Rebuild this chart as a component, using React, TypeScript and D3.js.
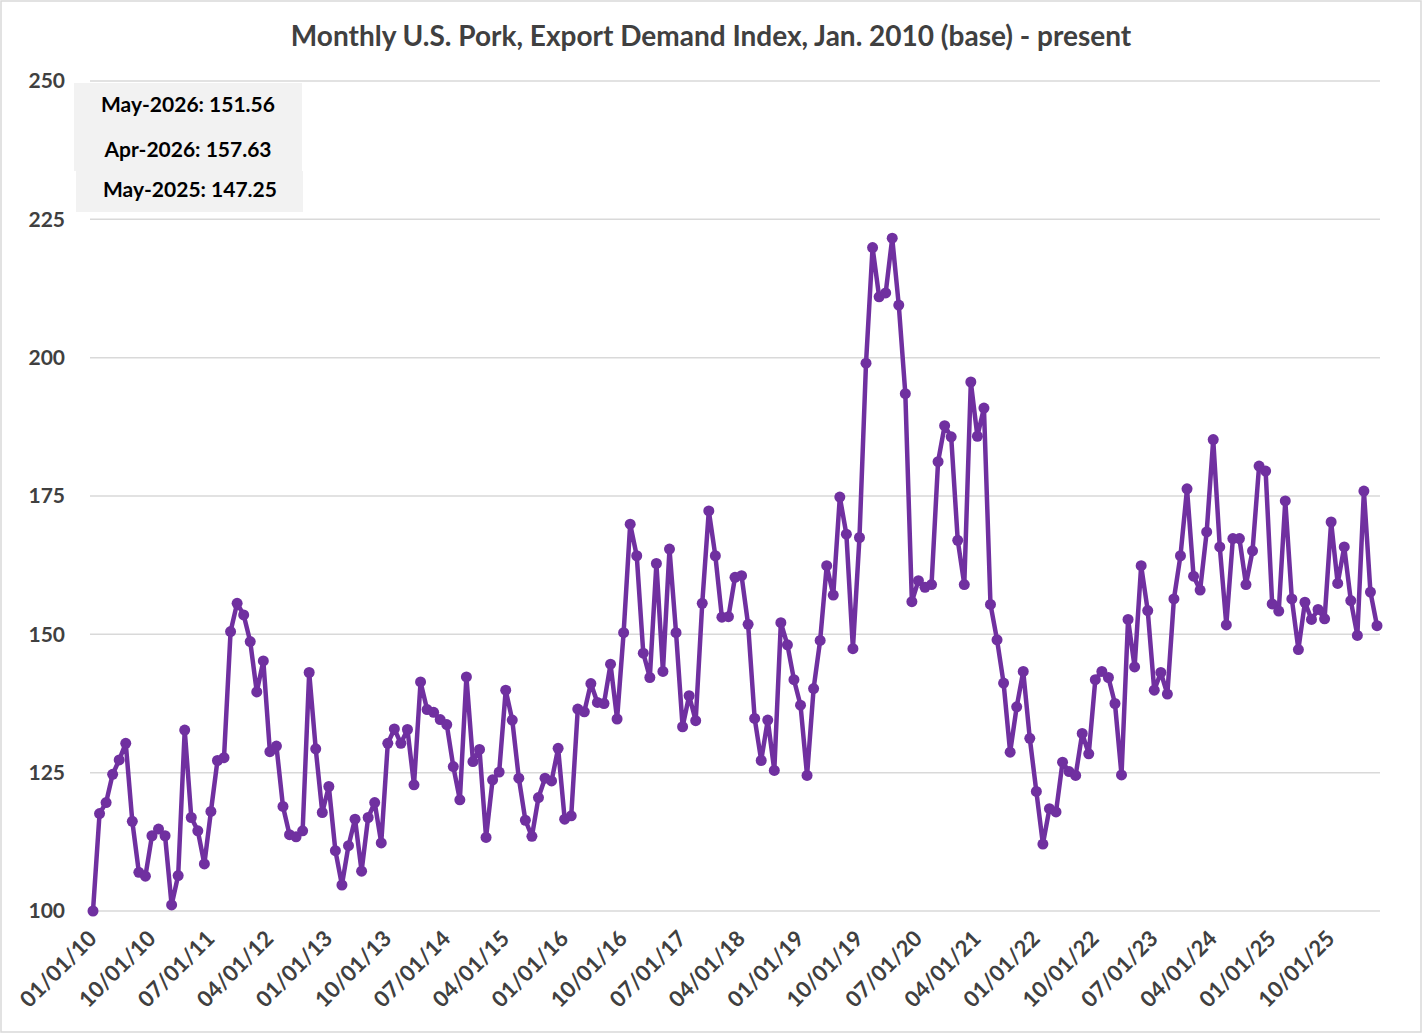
import React, { useEffect, useRef } from 'react';
import * as d3 from 'd3';

// Monthly index values, Jan 2010 = 100 (Jan 2010 .. May 2026)
const values2010 = [100.0, 117.6, 119.6, 124.7, 127.3, 130.3, 116.2, 107.0, 106.3, 113.6, 114.8, 113.6];
const values2011 = [101.1, 106.4, 132.7, 116.9, 114.5, 108.5, 118.0, 127.2, 127.7, 150.5, 155.6, 153.5];
const values2012 = [148.7, 139.6, 145.2, 128.8, 129.8, 118.9, 113.8, 113.4, 114.5, 143.1, 129.3, 117.8];
const values2013 = [122.5, 110.9, 104.7, 111.8, 116.6, 107.2, 116.9, 119.6, 112.3, 130.3, 132.9, 130.3];
const values2014 = [132.8, 122.8, 141.4, 136.4, 135.9, 134.6, 133.7, 126.1, 120.1, 142.3, 127.0, 129.2];
const values2015 = [113.3, 123.7, 125.1, 139.9, 134.5, 124.0, 116.4, 113.5, 120.5, 124.0, 123.5, 129.4];
const values2016 = [116.6, 117.2, 136.5, 136.0, 141.1, 137.7, 137.5, 144.6, 134.7, 150.3, 169.9, 164.2];
const values2017 = [146.6, 142.2, 162.8, 143.3, 165.4, 150.3, 133.3, 138.9, 134.4, 155.6, 172.3, 164.2];
const values2018 = [153.1, 153.2, 160.3, 160.6, 151.8, 134.8, 127.2, 134.5, 125.4, 152.1, 148.1, 141.8];
const values2019 = [137.2, 124.5, 140.2, 148.9, 162.4, 157.1, 174.8, 168.1, 147.4, 167.5, 199.0, 219.9];
const values2020 = [211.0, 211.7, 221.6, 209.5, 193.5, 155.9, 159.7, 158.5, 159.0, 181.2, 187.7, 185.7];
const values2021 = [167.0, 159.0, 195.6, 185.8, 190.9, 155.4, 149.0, 141.2, 128.7, 136.9, 143.3, 131.2];
const values2022 = [121.6, 112.1, 118.5, 117.9, 126.9, 125.2, 124.5, 132.1, 128.4, 141.8, 143.3, 142.2];
const values2023 = [137.5, 124.6, 152.7, 144.1, 162.4, 154.3, 139.9, 143.1, 139.2, 156.4, 164.2, 176.3];
const values2024 = [160.5, 158.0, 168.5, 185.2, 165.8, 151.7, 167.3, 167.3, 159.0, 165.1, 180.4, 179.5];
const values2025 = [155.5, 154.2, 174.1, 156.4, 147.25, 155.8, 152.7, 154.5, 152.8, 170.3, 159.2, 165.8];
const values2026 = [156.1, 149.8, 175.9, 157.63, 151.56];

const years = [2010, 2011, 2012, 2013, 2014, 2015, 2016, 2017, 2018, 2019, 2020, 2021, 2022, 2023, 2024, 2025, 2026];
const valuesByYear = [
  values2010, values2011, values2012, values2013, values2014, values2015, values2016, values2017, values2018,
  values2019, values2020, values2021, values2022, values2023, values2024, values2025, values2026,
];

const xTickLabels = [
  '01/01/10', '10/01/10', '07/01/11', '04/01/12', '01/01/13', '10/01/13', '07/01/14', '04/01/15',
  '01/01/16', '10/01/16', '07/01/17', '04/01/18', '01/01/19', '10/01/19', '07/01/20', '04/01/21',
  '01/01/22', '10/01/22', '07/01/23', '04/01/24', '01/01/25', '10/01/25',
];
const yTicks = [100, 125, 150, 175, 200, 225, 250];

const calloutLines = ['May-2026: 151.56', 'Apr-2026: 157.63', 'May-2025: 147.25'];

const TITLE = 'Monthly U.S. Pork, Export Demand Index, Jan. 2010 (base) - present';

interface Point {
  key: string;
  value: number;
}

const pad = (n: number) => String(n).padStart(2, '0');

const data: Point[] = years.flatMap((yr, i) =>
  valuesByYear[i].map((v, m) => ({ key: `${yr}-${pad(m + 1)}`, value: v }))
);

// "MM/DD/YY" -> "YYYY-MM"
const labelToKey = (label: string) => `20${label.slice(6, 8)}-${label.slice(0, 2)}`;

const W = 1422;
const H = 1033;

const App: React.FC = () => {
  const svgRef = useRef<SVGSVGElement>(null);

  useEffect(() => {
    if (!svgRef.current) return;
    const svg = d3.select(svgRef.current);
    svg.selectAll('*').remove();

    const font = 'Lato, "Open Sans", sans-serif';
    const textColor = '#404040';
    const lineColor = '#7030A0';

    const plot = { left: 90, right: 1380, top: 81, bottom: 911 };

    const x = d3.scalePoint<string>()
      .domain(data.map(d => d.key))
      .range([93, 1377]);

    const y = d3.scaleLinear()
      .domain([100, 250])
      .range([plot.bottom, plot.top]);

    // background + outer frame
    svg.append('rect')
      .attr('x', 1).attr('y', 1)
      .attr('width', W - 2).attr('height', H - 2)
      .attr('fill', '#ffffff')
      .attr('stroke', '#d9d9d9')
      .attr('stroke-width', 1.5);

    // title
    svg.append('text')
      .attr('x', 711)
      .attr('y', 46)
      .attr('text-anchor', 'middle')
      .attr('font-family', font)
      .attr('font-weight', 700)
      .attr('font-size', 28)
      .attr('fill', textColor)
      .text(TITLE);

    // horizontal gridlines
    svg.append('g')
      .selectAll('line')
      .data(yTicks)
      .enter()
      .append('line')
      .attr('x1', plot.left)
      .attr('x2', plot.right)
      .attr('y1', d => y(d))
      .attr('y2', d => y(d))
      .attr('stroke', '#d9d9d9')
      .attr('stroke-width', 1.5);

    // y labels
    svg.append('g')
      .selectAll('text')
      .data(yTicks)
      .enter()
      .append('text')
      .attr('x', 65)
      .attr('y', d => y(d))
      .attr('dy', '0.35em')
      .attr('text-anchor', 'end')
      .attr('font-family', font)
      .attr('font-weight', 700)
      .attr('font-size', 21)
      .attr('fill', textColor)
      .text(d => d);

    // x labels, rotated
    svg.append('g')
      .selectAll('text')
      .data(xTickLabels)
      .enter()
      .append('text')
      .attr('transform', d => `translate(${(x(labelToKey(d)) ?? 0) + 5},${940}) rotate(-45)`)
      .attr('text-anchor', 'end')
      .attr('font-family', font)
      .attr('font-weight', 700)
      .attr('font-size', 22)
      .attr('fill', textColor)
      .text(d => d);

    // series line
    const line = d3.line<Point>()
      .x(d => x(d.key) ?? 0)
      .y(d => y(d.value));

    svg.append('path')
      .datum(data)
      .attr('fill', 'none')
      .attr('stroke', lineColor)
      .attr('stroke-width', 4.5)
      .attr('stroke-linejoin', 'round')
      .attr('d', line);

    svg.append('g')
      .selectAll('circle')
      .data(data)
      .enter()
      .append('circle')
      .attr('cx', d => x(d.key) ?? 0)
      .attr('cy', d => y(d.value))
      .attr('r', 5.5)
      .attr('fill', lineColor);

    // callout boxes (latest values)
    svg.append('rect')
      .attr('x', 74).attr('y', 83)
      .attr('width', 228).attr('height', 88)
      .attr('fill', '#f2f2f2');
    svg.append('rect')
      .attr('x', 76).attr('y', 171)
      .attr('width', 227).attr('height', 41)
      .attr('fill', '#f2f2f2');

    const calloutY = [112, 157, 197];
    svg.append('g')
      .selectAll('text')
      .data(calloutLines)
      .enter()
      .append('text')
      .attr('x', (_, i) => (i === 2 ? 190 : 188))
      .attr('y', (_, i) => calloutY[i])
      .attr('text-anchor', 'middle')
      .attr('font-family', font)
      .attr('font-weight', 700)
      .attr('font-size', 21)
      .attr('fill', '#000000')
      .text(d => d);
  }, []);

  return (
    <div style={{ position: 'absolute', left: 0, top: 0 }}>
      <svg ref={svgRef} width={W} height={H} style={{ display: 'block' }} />
    </div>
  );
};

export default App;
